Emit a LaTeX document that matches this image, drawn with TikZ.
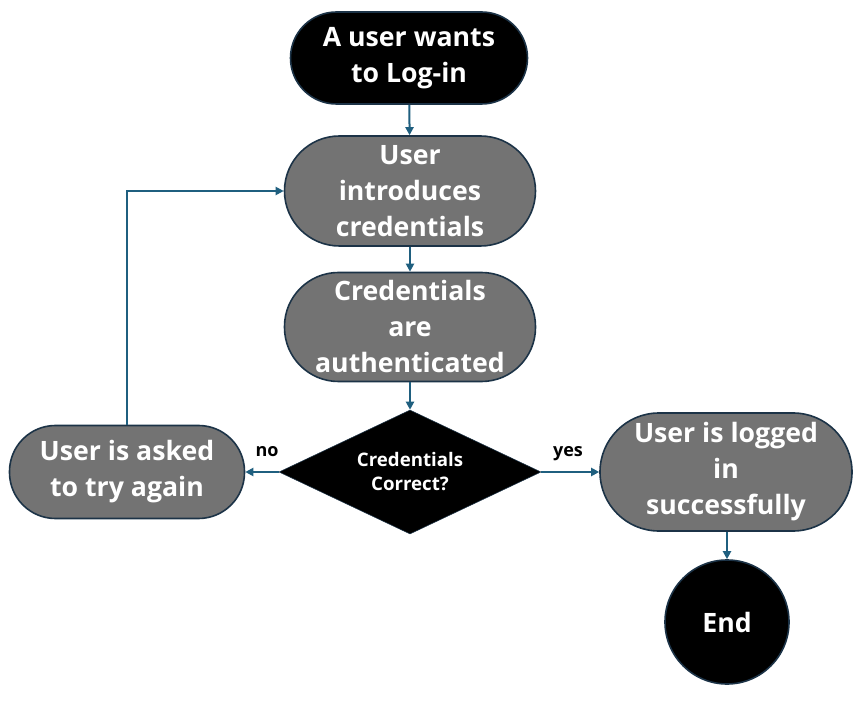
\documentclass[tikz,border=0pt]{standalone}
\usepackage{fontspec}
\setmainfont{Open Sans}
\usetikzlibrary{shapes.geometric,arrows.meta}
\definecolor{navy}{HTML}{1C3347}
\definecolor{arrowc}{HTML}{1F5F7F}
\definecolor{greyfill}{HTML}{737373}
\tikzset{
  term/.style={draw=navy, line width=1.2pt, fill=black, text=white, font=\fontsize{20}{27}\selectfont\bfseries, align=center, inner sep=0pt},
  proc/.style={draw=navy, line width=1.2pt, fill=greyfill, text=white, font=\fontsize{20}{27}\selectfont\bfseries, align=center, inner sep=0pt},
  decis/.style={diamond, draw=navy, fill=black, text=white, font=\fontsize{14}{18}\selectfont\bfseries, align=center, inner sep=0pt, aspect=2.1},
  conn/.style={draw=arrowc, line width=1.5pt, -{Triangle[length=6pt,width=6pt]}},
  lbl/.style={font=\fontsize{13.5}{15}\selectfont\bfseries, text=black}
}
\begin{document}
\begin{tikzpicture}[x=0.75pt,y=-0.75pt]
\useasboundingbox (0,0) rectangle (861,702);
\fill[white] (0,0) rectangle (861,702);
\node[term, minimum width=237*0.75pt, minimum height=92*0.75pt, rounded corners=46*0.75pt] (start) at (409,58) {A user wants\\to Log-in};
\node[proc, minimum width=251*0.75pt, minimum height=110*0.75pt, rounded corners=55*0.75pt] (intro) at (410,191) {User\\introduces\\credentials};
\node[proc, minimum width=251*0.75pt, minimum height=109*0.75pt, rounded corners=54*0.75pt] (auth) at (410,327) {Credentials\\are\\authenticated};
\node[decis, minimum width=262*0.75pt, minimum height=124*0.75pt] (dec) at (410,472) {Credentials\\Correct?};
\node[proc, minimum width=235*0.75pt, minimum height=93*0.75pt, rounded corners=46*0.75pt] (retry) at (127,472) {User is asked\\to try again};
\node[proc, minimum width=252*0.75pt, minimum height=118*0.75pt, rounded corners=59*0.75pt] (ok) at (726,472) {User is logged\\in\\successfully};
\node[circle, draw=navy, line width=1.2pt, fill=black, text=white, font=\fontsize{20}{27}\selectfont\bfseries, minimum size=124*0.75pt, inner sep=0pt] (end) at (727,622) {End};
\draw[conn] (start) -- (intro);
\draw[conn] (intro) -- (auth);
\draw[conn] (auth) -- (dec);
\draw[conn] (dec.west) -- (retry.east);
\draw[conn] (dec.east) -- (ok.west);
\draw[conn] (ok.south -| end.north) -- (end.north);
\draw[conn] (retry.north) |- (intro.west);
\node[lbl] (no) at (267,452) {no};
\node[lbl] (yes) at (568,454) {yes};
\end{tikzpicture}
\end{document}
